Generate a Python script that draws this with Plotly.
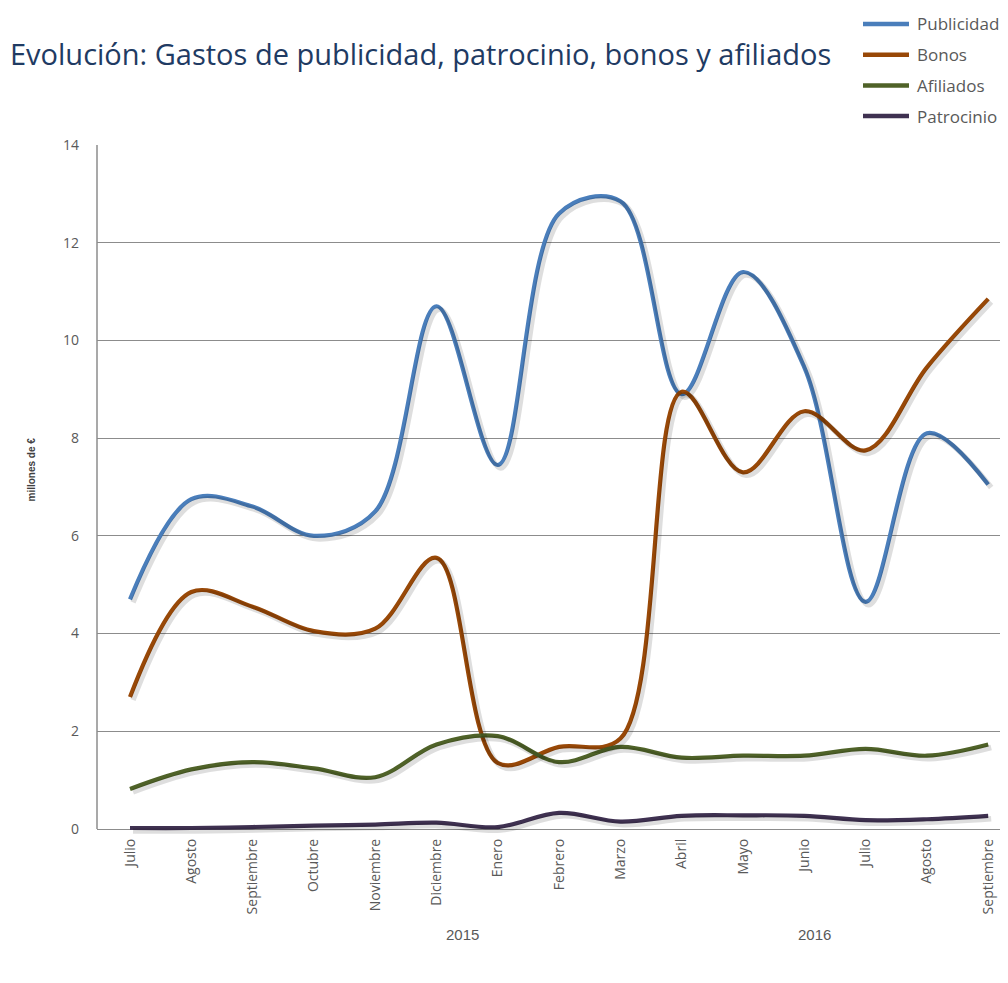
import plotly.graph_objects as go

months = ["Julio", "Agosto", "Septiembre", "Octubre", "Noviembre", "Diciembre",
          "Enero", "Febrero", "Marzo", "Abril", "Mayo", "Junio", "Julio", "Agosto", "Septiembre"]
years = ["2015", "2016"]

publicidad = [4.7, 6.75, 6.6, 6.0, 6.5, 10.7, 7.45, 12.6, 12.85, 8.9, 11.4, 9.45, 4.65, 8.1, 7.05]
bonos = [2.7, 4.85, 4.55, 4.05, 4.1, 5.55, 1.35, 1.68, 1.85, 8.95, 7.3, 8.55, 7.75, 9.45, 10.85]
afiliados = [0.82, 1.22, 1.37, 1.24, 1.06, 1.73, 1.9, 1.37, 1.68, 1.46, 1.5, 1.5, 1.64, 1.5, 1.73]
patrocinio = [0.02, 0.02, 0.04, 0.07, 0.09, 0.13, 0.04, 0.33, 0.15, 0.27, 0.28, 0.27, 0.18, 0.2, 0.27]

series = [
    ("Publicidad", publicidad, "#4A7EBB"),
    ("Bonos", bonos, "#984807"),
    ("Afiliados", afiliados, "#4F6228"),
    ("Patrocinio", patrocinio, "#3F3151"),
]

OFF = 8                            # page body margin
W, H = 1008 - OFF, 983 - OFF
SX, SY = 3, 3                      # shadow offset in pixels
L, R = 97 - OFF, W                 # paper plot area (pixels, figure coords)
T, B = 145 - OFF, 829 - OFF + 6 + SY
PW, PH = R - L, B - T


def px_x(p):
    return (p - OFF - L) / PW


def px_y(p):
    return (B - (p - OFF)) / PH


xs = list(range(len(months)))
fig = go.Figure()

# soft shadows (same data, drawn on a subplot offset by a few pixels)
for name, vals, col in series:
    fig.add_trace(go.Scatter(x=xs, y=vals, mode="lines", xaxis="x2", yaxis="y2",
                             line=dict(color="rgba(0,0,0,0.13)", width=5.5, shape="spline", smoothing=1.0),
                             hoverinfo="skip", showlegend=False))

for name, vals, col in series:
    fig.add_trace(go.Scatter(x=xs, y=vals, mode="lines", name=name,
                             line=dict(color=col, width=4.2, shape="spline", smoothing=1.0),
                             showlegend=False))

step = 61.3
x0 = -(130 - 97) / step
xr = [x0, x0 + (PW - SX) / step]
ppu = (829 - 145) / 14.0
yr = [-6 / ppu, 14]
dx, dy = SX / PW, SY / PH

font_main = "Open Sans"
font_narrow = "Liberation Sans, sans-serif"

fig.update_layout(
    width=W, height=H,
    margin=dict(l=L, r=W - R, t=T, b=H - B, autoexpand=False),
    paper_bgcolor="white", plot_bgcolor="rgba(0,0,0,0)",
    font=dict(family=font_main, color="#595959", size=14),
    xaxis=dict(range=xr, tickmode="array", tickvals=xs, ticktext=months, tickangle=-90,
               showgrid=False, zeroline=False, showline=False, ticks="",
               tickfont=dict(size=14, color="#595959"), domain=[0, 1 - dx], anchor="y"),
    yaxis=dict(range=yr, tickvals=[0, 2, 4, 6, 8, 10, 12, 14], showgrid=True,
               gridcolor="#8C8C8C", gridwidth=1, zeroline=False, showline=False,
               tickfont=dict(size=14, color="#595959"), ticklabelstandoff=17,
               domain=[dy, 1], anchor="x"),
    xaxis2=dict(range=xr, domain=[dx, 1], anchor="y2", visible=False),
    yaxis2=dict(range=yr, domain=[0, 1 - dy], anchor="x2", visible=False),
    title=dict(text="Evolución: Gastos de publicidad, patrocinio, bonos y afiliados",
               x=2 / W, xanchor="left", y=1 - 47 / H, yanchor="middle",
               font=dict(family=font_main, size=29, color="#1F3B63")),
    showlegend=False,
)

# y axis line
fig.add_shape(type="line", xref="paper", yref="y", x0=0, x1=0, y0=0, y1=14,
              line=dict(color="#8C8C8C", width=1.5))

# y axis title
fig.add_annotation(text="<b>millones de €</b>", xref="paper", yref="paper",
                   x=px_x(24), y=px_y(470), textangle=-90, showarrow=False,
                   font=dict(family=font_narrow, size=10, color="#404040"))

# year labels
for yr_lbl, pxx in zip(years, [462, 833]):
    fig.add_annotation(text=yr_lbl, xref="paper", yref="paper", x=px_x(pxx), y=px_y(945),
                       showarrow=False, font=dict(family=font_narrow, size=15, color="#595959"))

# manual legend
for k, (name, vals, col) in enumerate(series):
    yy = px_y(24 + k * 30.7)
    fig.add_shape(type="line", xref="paper", yref="paper", x0=px_x(863), x1=px_x(909),
                  y0=yy, y1=yy, line=dict(color=col, width=4.5))
    fig.add_annotation(text=name, xref="paper", yref="paper", x=px_x(915), y=yy,
                       xanchor="left", yanchor="middle", showarrow=False,
                       font=dict(family=font_main, size=17, color="#595959"))

fig.write_html("out.html")
